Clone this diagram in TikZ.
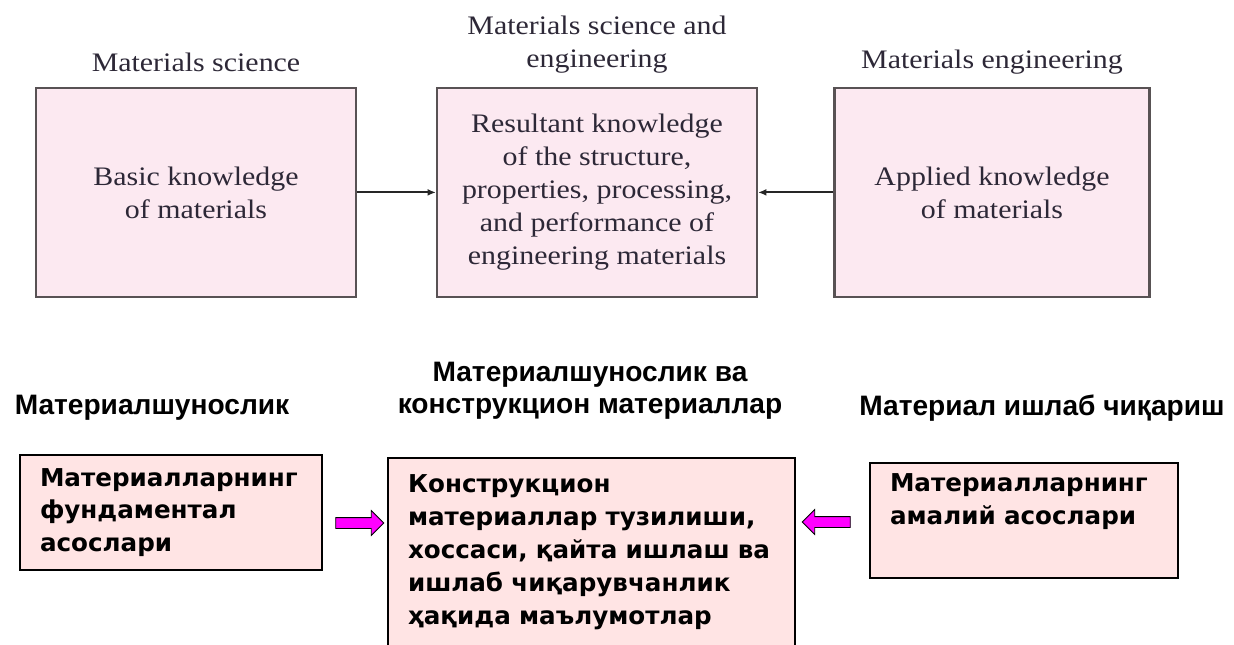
\documentclass[tikz,border=0pt]{standalone}
\usepackage{fontspec}
\setmainfont{Liberation Serif}
\newfontfamily\engfont[FakeStretch=1.12]{Liberation Serif}
\newfontfamily\headfont{Liberation Sans}
\newfontfamily\boxfont{DejaVu Sans}
\usepackage{tikz}
\usetikzlibrary{arrows.meta,shapes.arrows}
\definecolor{topfill}{RGB}{252,233,241}
\definecolor{topline}{RGB}{88,82,84}
\definecolor{toptext}{RGB}{45,40,55}
\definecolor{botfill}{RGB}{255,228,228}
\definecolor{arrowfill}{RGB}{255,0,255}

\begin{document}
\begin{tikzpicture}[
    topbox/.style={draw=topline, fill=topfill, line width=1.5pt, align=center, minimum height=5.225cm, text=toptext, font=\engfont\fontsize{19}{23.5}\selectfont},
    toptitle/.style={align=center, text=toptext, font=\engfont\fontsize{19}{23.5}\selectfont},
    botbox/.style={draw, fill=botfill, line width=1pt, align=left, inner xsep=0.5cm, font=\boxfont\bfseries\fontsize{17.5}{23.4}\selectfont},
    bottitle/.style={align=center, font=\headfont\bfseries\fontsize{20}{22.8}\selectfont},
    arrow/.style={-{Latex[length=6pt,width=5pt]}, line width=1.4pt, draw=black!85},
    fatarrow/.style={single arrow, draw, fill=arrowfill, line width=0.6pt, minimum height=1.2cm, single arrow head extend=0.175cm, inner sep=0pt, text height=0.125cm, text depth=0.125cm}
]
\useasboundingbox (0,0) rectangle (30.85,16.1);
\clip (0,0) rectangle (30.85,16.1);

% English version
\node[topbox, minimum width=8cm] at (4.9,11.29) (basic) {Basic knowledge\\of materials};
\node[topbox, minimum width=8cm] at (14.925,11.29) (result) {Resultant knowledge\\of the structure,\\properties, processing,\\and performance of\\engineering materials};
\node[topbox, minimum width=7.875cm] at (24.8,11.29) (applied) {Applied knowledge\\of materials};

\node[toptitle] at (4.9,14.55) (sciname) {Materials science};
\node[toptitle] at (14.925,14.975) (msename) {Materials science and\\engineering};
\node[toptitle] at (24.8,14.55) (engname) {Materials engineering};

\draw[arrow] (basic) -- (result);
\draw[arrow] (applied) -- (result);

% Uzbek version
\node[botbox, text width=6.55cm, minimum height=2.875cm] at (4.275,3.2875) (fund) {Материалларнинг\\фундаментал\\асослари};
\node[botbox, text width=9.175cm, minimum height=4.7cm] at (14.7875,2.3) (konstr) {Конструкцион\\материаллар тузилиши,\\хоссаси, қайта ишлаш ва\\ишлаб чиқарувчанлик\\ҳақида маълумотлар};
\node[botbox, text width=6.7cm, minimum height=2.875cm] at (25.6,3.0875) (amaliy) {Материалларнинг\\амалий асослари\\\strut};

\node[bottitle] at (3.8,5.9) (shunos) {Материалшунослик};
\node[bottitle] at (14.75,6.325) (shunosva) {Материалшунослик ва\\конструкцион материаллар};
\node[bottitle] at (26.05,5.9) (ishlab) {Материал ишлаб чиқариш};

\node[fatarrow] at (8.925,3.025) (rarrow) {};
\node[fatarrow, shape border rotate=180] at (20.725,3.05) (larrow) {};
\end{tikzpicture}
\end{document}
